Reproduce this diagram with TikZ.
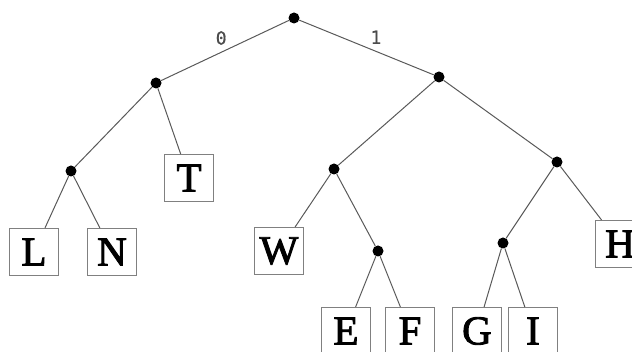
\documentclass[tikz,border=0pt]{standalone}
\usepackage{fontspec}
\setmainfont{Liberation Serif}
\newfontfamily\leaffont[FakeBold=2.2]{Liberation Serif}
\newfontfamily\codefont[FakeBold=0.8]{DejaVu Sans Mono}
\usetikzlibrary{positioning}

\begin{document}
\begin{tikzpicture}[
    x=1pt, y=-1pt,
    branch/.style={circle, fill=black, inner sep=0pt, minimum size=11pt},
    leaf/.style={draw=gray, line width=1.1pt, inner sep=0pt, minimum width=49pt, minimum height=47pt,
        font=\leaffont\fontsize{41}{44}\selectfont},
    edge/.style={draw=gray!70!black, line width=1pt},
    bit/.style={font=\codefont\fontsize{18}{19}\selectfont, text=black!70, inner sep=1pt}
]
    \useasboundingbox (0, 0) rectangle (632, 352);

    % === Inner nodes ===
    \node[branch] (root) at (294, 18) {};
    \node[branch] (n0)   at (156, 83) {};
    \node[branch] (n1)   at (439, 77) {};
    \node[branch] (n00)  at (71, 171) {};
    \node[branch] (n10)  at (334, 169) {};
    \node[branch] (n11)  at (557, 162) {};
    \node[branch] (n101) at (378, 251) {};
    \node[branch] (n110) at (503, 243) {};

    % === Leaves ===
    \node[leaf] (T) at (189, 178) {T};
    \node[leaf] (L) at (34, 252) {L};
    \node[leaf] (N) at (112, 252) {N};
    \node[leaf] (W) at (279, 251) {W};
    \node[leaf] (H) at (620, 244) {H};
    \node[leaf] (E) at (346, 331) {E};
    \node[leaf] (F) at (410, 331) {F};
    \node[leaf] (G) at (477, 331) {G};
    \node[leaf] (I) at (533, 331) {I};

    % === Edges ===
    \draw[edge] (root) -- (n0) node[bit, pos=0.53, above=6pt] {0};
    \draw[edge] (root) -- (n1) node[bit, pos=0.57, above=6pt] {1};
    \draw[edge] (n0) -- (n00);
    \draw[edge] (n0) -- (T);
    \draw[edge] (n00) -- (L);
    \draw[edge] (n00) -- (N);
    \draw[edge] (n1) -- (n10);
    \draw[edge] (n1) -- (n11);
    \draw[edge] (n10) -- (W);
    \draw[edge] (n10) -- (n101);
    \draw[edge] (n101) -- (E);
    \draw[edge] (n101) -- (F);
    \draw[edge] (n11) -- (n110);
    \draw[edge] (n11) -- (H);
    \draw[edge] (n110) -- (G);
    \draw[edge] (n110) -- (I);

\end{tikzpicture}
\end{document}
